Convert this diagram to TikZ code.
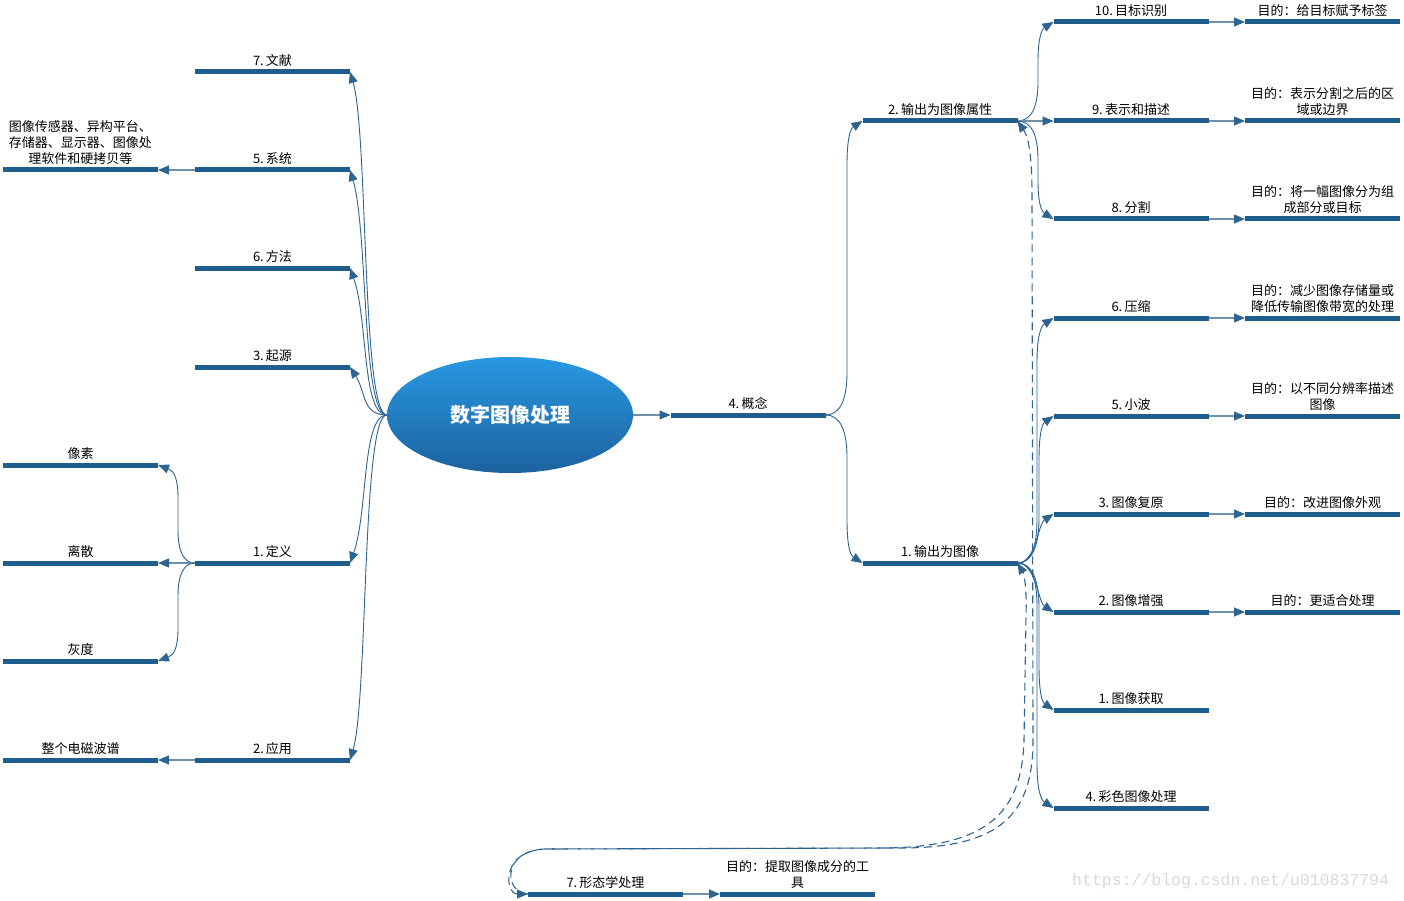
\documentclass[tikz,border=0pt]{standalone}
\usepackage{fontspec}
\setmainfont{Noto Sans CJK SC}
\newfontfamily\wmfont{Liberation Mono}
\usetikzlibrary{arrows.meta,shapes.geometric}
\definecolor{barcol}{RGB}{31,93,140}
\definecolor{conncol}{RGB}{45,100,145}
\definecolor{lightconn}{RGB}{110,142,170}
\definecolor{ctop}{RGB}{40,152,226}
\definecolor{cbot}{RGB}{28,98,158}
\tikzset{
  bar/.style={fill=barcol, draw=none, minimum width=155pt, minimum height=5pt, inner sep=0pt, outer sep=0pt},
  lbl/.style={font=\fontsize{13}{16}\selectfont, align=center, inner sep=0pt, text=black},
  tipA/.tip={Triangle[length=11pt,width=9pt]},
  conn/.style={draw=conncol, line width=0.9pt, -tipA},
  sconn/.style={draw=lightconn, line width=1.1pt, -{Triangle[length=11pt,width=9pt,color=conncol]}},
  dconn/.style={draw=conncol, line width=1.1pt, dash pattern=on 8pt off 5pt},
}
\begin{document}
\begin{tikzpicture}[x=1pt,y=-1pt,label distance=2.5pt]
\useasboundingbox (0,0) rectangle (1404,901);
\fill[white] (0,0) rectangle (1404,901);

% root
\node[ellipse, minimum width=246pt, minimum height=116pt, inner sep=0pt,
      top color=ctop, bottom color=cbot, draw=none, text=white,
      font=\fontsize{20}{24}\selectfont\bfseries] (root) at (510,415) {数字图像处理};

% left bars
\node[bar, label={[lbl]above:7.\,文献}] (wenxian) at (272.5,72) {};
\node[bar, label={[lbl]above:5.\,系统}] (xitong) at (272.5,170) {};
\node[bar, label={[lbl]above:6.\,方法}] (fangfa) at (272.5,268) {};
\node[bar, label={[lbl]above:3.\,起源}] (qiyuan) at (272.5,367) {};
\node[bar, label={[lbl]above:1.\,定义}] (dingyi) at (272.5,563) {};
\node[bar, label={[lbl]above:2.\,应用}] (yingyong) at (272.5,760) {};

\node[bar, label={[lbl]above:图像传感器、异构平台、\\存储器、显示器、图像处\\理软件和硬拷贝等}] (sysdet) at (80.5,170) {};
\node[bar, label={[lbl]above:像素}] (xiangsu) at (80.5,465) {};
\node[bar, label={[lbl]above:离散}] (lisan) at (80.5,563) {};
\node[bar, label={[lbl]above:灰度}] (huidu) at (80.5,661) {};
\node[bar, label={[lbl]above:整个电磁波谱}] (dianci) at (80.5,760) {};

% middle
\node[bar, label={[lbl]above:4.\,概念}] (gainian) at (748,415) {};
\node[bar, label={[lbl]above:2.\,输出为图像属性}] (out2) at (940,121) {};
\node[bar, label={[lbl]above:1.\,输出为图像}] (out1) at (940,563) {};

% right topics
\node[bar, label={[lbl]above:10.\,目标识别}] (t10) at (1131,22) {};
\node[bar, label={[lbl]above:9.\,表示和描述}] (t9) at (1131,121) {};
\node[bar, label={[lbl]above:8.\,分割}] (t8) at (1131,219) {};
\node[bar, label={[lbl]above:6.\,压缩}] (t6) at (1131,318) {};
\node[bar, label={[lbl]above:5.\,小波}] (t5) at (1131,416) {};
\node[bar, label={[lbl]above:3.\,图像复原}] (t3) at (1131,514) {};
\node[bar, label={[lbl]above:2.\,图像增强}] (t2) at (1131,612) {};
\node[bar, label={[lbl]above:1.\,图像获取}] (t1) at (1131,710) {};
\node[bar, label={[lbl]above:4.\,彩色图像处理}] (t4) at (1131,808) {};

% purposes
\node[bar, label={[lbl]above:目的：给目标赋予标签}] (p10) at (1322.5,22) {};
\node[bar, label={[lbl]above:目的：表示分割之后的区\\域或边界}] (p9) at (1322.5,121) {};
\node[bar, label={[lbl]above:目的：将一幅图像分为组\\成部分或目标}] (p8) at (1322.5,219) {};
\node[bar, label={[lbl]above:目的：减少图像存储量或\\降低传输图像带宽的处理}] (p6) at (1322.5,318) {};
\node[bar, label={[lbl]above:目的：以不同分辨率描述\\图像}] (p5) at (1322.5,416) {};
\node[bar, label={[lbl]above:目的：改进图像外观}] (p3) at (1322.5,514) {};
\node[bar, label={[lbl]above:目的：更适合处理}] (p2) at (1322.5,612) {};

% bottom
\node[bar, label={[lbl]above:7.\,形态学处理}] (morph) at (605.5,894) {};
\node[bar, label={[lbl]above:目的：提取图像成分的工\\具}] (pmorph) at (797.5,894) {};

% root -> left
\draw[conn] (root.west) .. controls +(-25,0) and +(18,60) .. (wenxian.east);
\draw[conn] (root.west) .. controls +(-25,0) and +(18,60) .. (xitong.east);
\draw[conn] (root.west) .. controls +(-25,0) and +(18,50) .. (fangfa.east);
\draw[conn] (root.west) .. controls +(-25,0) and +(16,25) .. (qiyuan.east);
\draw[conn] (root.west) .. controls +(-25,0) and +(18,-50) .. (dingyi.east);
\draw[conn] (root.west) .. controls +(-25,0) and +(18,-60) .. (yingyong.east);

% left children
\draw[conn] (dingyi.west) .. controls (184,563) and (178,552) .. (178,530) -- (178,498)
  .. controls (178,478) and (174,471) .. (xiangsu.east);
\draw[sconn] (dingyi.west) -- (lisan.east);
\draw[conn] (dingyi.west) .. controls (184,563) and (178,574) .. (178,596) -- (178,628)
  .. controls (178,648) and (174,655) .. (huidu.east);
\draw[sconn] (xitong.west) -- (sysdet.east);
\draw[sconn] (yingyong.west) -- (dianci.east);

% root -> concept
\draw[sconn] (root.east) -- (gainian.west);
\draw[conn] (gainian.east) .. controls (841,415) and (847,398) .. (847,372) -- (847,165)
  .. controls (847,140) and (850,129) .. (out2.west);
\draw[conn] (gainian.east) .. controls (841,415) and (847,432) .. (847,458) -- (847,520)
  .. controls (847,545) and (850,555) .. (out1.west);

% out2 children
\draw[conn] (out2.east) .. controls (1032,121) and (1038,106) .. (1038,82) -- (1038,60)
  .. controls (1038,38) and (1042,29) .. (t10.west);
\draw[sconn] (out2.east) -- (t9.west);
\draw[conn] (out2.east) .. controls (1032,121) and (1038,136) .. (1038,160) -- (1038,182)
  .. controls (1038,204) and (1042,212) .. (t8.west);

% out1 children
\draw[conn] (out1.east) .. controls (1032,563) and (1037,546) .. (1037,518) -- (1037,362)
  .. controls (1037,336) and (1041,326) .. (t6.west);
\draw[conn] (out1.east) .. controls (1032,563) and (1039,546) .. (1039,518) -- (1039,460)
  .. controls (1039,434) and (1042,424) .. (t5.west);
\draw[conn] (out1.east) .. controls (1036,563) and (1038,524) .. (t3.west);
\draw[conn] (out1.east) .. controls (1036,563) and (1038,602) .. (t2.west);
\draw[conn] (out1.east) .. controls (1032,563) and (1039,580) .. (1039,608) -- (1039,666)
  .. controls (1039,692) and (1042,702) .. (t1.west);
\draw[conn] (out1.east) .. controls (1032,563) and (1037,580) .. (1037,608) -- (1037,764)
  .. controls (1037,790) and (1041,800) .. (t4.west);

% purposes
\draw[sconn] (t10.east) -- (p10.west);
\draw[sconn] (t9.east) -- (p9.west);
\draw[sconn] (t8.east) -- (p8.west);
\draw[sconn] (t6.east) -- (p6.west);
\draw[sconn] (t5.east) -- (p5.west);
\draw[sconn] (t3.east) -- (p3.west);
\draw[sconn] (t2.east) -- (p2.west);
\draw[sconn] (morph.east) -- (pmorph.west);

% dashed relations
\draw[dconn, tipA-tipA] (morph.west) .. controls (505,894) and (500,851) .. (545,849)
  -- (880,848) .. controls (985,848) and (1022,815) .. (1024,740)
  -- (1026,615) .. controls (1027,588) and (1024,574) .. (out1.east);
\draw[dconn, -tipA] (morph.west) .. controls (505,894) and (500,851) .. (545,849)
  -- (900,848) .. controls (1000,848) and (1033,815) .. (1033,740)
  -- (1032,195) .. controls (1032,158) and (1029,138) .. (out2.east);

% watermark
\node[text=black!15, font=\wmfont\fontsize{16.5}{17}\selectfont, anchor=west, inner sep=0pt] (wm) at (1072,881) {https://blog.csdn.net/u010837794};
\end{tikzpicture}
\end{document}
